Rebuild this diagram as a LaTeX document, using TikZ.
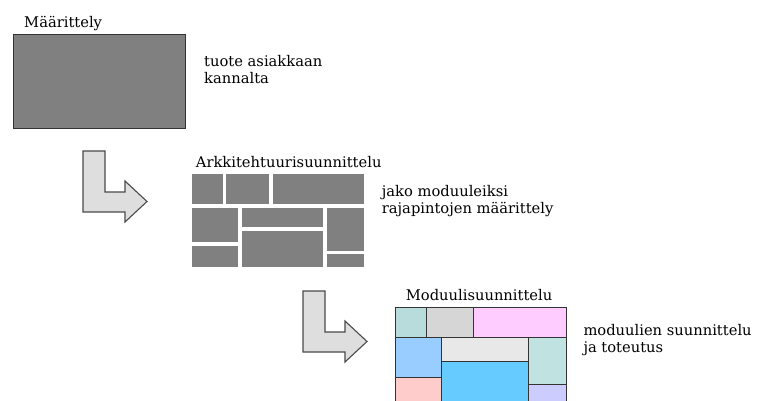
\documentclass[tikz,border=0pt]{standalone}
\usepackage{fontspec}
\setmainfont{DejaVu Serif}
\definecolor{boxgray}{HTML}{808080}
\definecolor{edge}{HTML}{333333}
\definecolor{arrowfill}{HTML}{DEDEDE}
\definecolor{arrowedge}{HTML}{4A4A4A}
\definecolor{cTeal}{HTML}{B8DCDC}
\definecolor{cGray}{HTML}{D6D6D6}
\definecolor{cPink}{HTML}{FFCCFF}
\definecolor{cBlueL}{HTML}{99CCFF}
\definecolor{cRose}{HTML}{FFCCCC}
\definecolor{cLight}{HTML}{E8E8E8}
\definecolor{cBlue}{HTML}{66CCFF}
\definecolor{cTeal2}{HTML}{C0E2E0}
\definecolor{cLav}{HTML}{CCCCFF}
\tikzset{
  lbl/.style={anchor=base west, inner sep=0pt, font=\fontsize{14.7}{17}\selectfont, text=black},
  bigarrow/.style={fill=arrowfill, draw=arrowedge, line width=1.1pt, line join=miter},
  blk/.style={fill=boxgray, draw=none},
  cell/.style={draw=edge, line width=0.9pt},
}
\begin{document}
\begin{tikzpicture}[x=1pt,y=-1pt]
\useasboundingbox (0,0) rectangle (758,400);
\clip (0,0) rectangle (758,400);
\fill[white] (0,0) rectangle (758,400);

% Stage 1
\node[lbl] (t1) at (24,27.3) {Määrittely};
\draw[fill=boxgray, draw=edge, line width=1pt] (13,34) rectangle (185,128);
\node[lbl] (d1a) at (204,66.7) {tuote asiakkaan};
\node[lbl] (d1b) at (204,83.3) {kannalta};

% Arrow 1
\draw[bigarrow] (83,151) -- (105,151) -- (105,192) -- (125,192) -- (125,181)
  -- (147,201.5) -- (125,222) -- (125,212) -- (83,212) -- cycle;

% Stage 2
\node[lbl] (t2) at (195.7,167.7) {Arkkitehtuurisuunnittelu};
\fill[blk] (192.3,174.3) rectangle (222.7,204);
\fill[blk] (225.7,174.3) rectangle (269.3,204);
\fill[blk] (272.7,174.3) rectangle (364.3,204);
\fill[blk] (192.3,207.7) rectangle (238,242.3);
\fill[blk] (192.3,245.7) rectangle (238,267.3);
\fill[blk] (241.7,207.7) rectangle (323.3,227.3);
\fill[blk] (241.7,230.7) rectangle (323.3,267.3);
\fill[blk] (327,207.7) rectangle (364.3,250.7);
\fill[blk] (327,254.3) rectangle (364.3,267.3);
\node[lbl] (d2a) at (381.7,196.7) {jako moduuleiksi};
\node[lbl] (d2b) at (381.7,213.3) {rajapintojen määrittely};

% Arrow 2
\draw[bigarrow] (303,291) -- (325,291) -- (325,332) -- (345,332) -- (345,321)
  -- (367,341.5) -- (345,362) -- (345,352) -- (303,352) -- cycle;

% Stage 3
\node[lbl] (t3) at (405.7,300.7) {Moduulisuunnittelu};
\draw[cell, fill=cTeal]  (395,307.3) rectangle (426.7,337.7);
\draw[cell, fill=cGray]  (426.7,307.3) rectangle (473.3,337.7);
\draw[cell, fill=cPink]  (473.3,307.3) rectangle (566.7,337.7);
\draw[cell, fill=cBlueL] (395,337.7) rectangle (441.7,377.7);
\draw[cell, fill=cRose]  (395,377.7) rectangle (441.7,402);
\draw[cell, fill=cLight] (441.7,337.7) rectangle (528.3,361);
\draw[cell, fill=cBlue]  (441.7,361) rectangle (528.3,402);
\draw[cell, fill=cTeal2] (528.3,337.7) rectangle (566.7,384.3);
\draw[cell, fill=cLav]   (528.3,384.3) rectangle (566.7,402);
\node[lbl] (d3a) at (583.3,335.7) {moduulien suunnittelu};
\node[lbl] (d3b) at (583.3,352.3) {ja toteutus};
\end{tikzpicture}
\end{document}
